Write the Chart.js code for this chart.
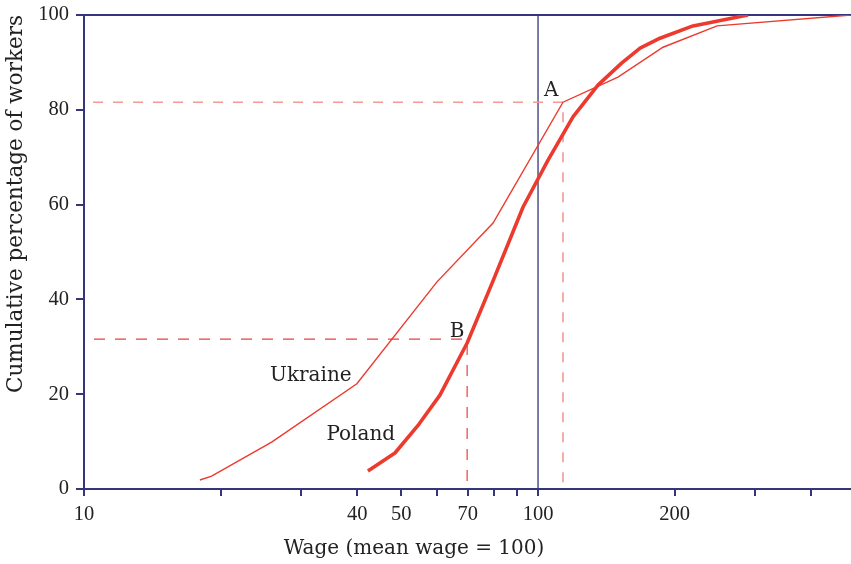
<!DOCTYPE html>
<html>
<head>
<meta charset="utf-8">
<script src="https://cdn.jsdelivr.net/npm/chart.js@4.4.1/dist/chart.umd.min.js"></script>
<style>
  html, body { margin: 0; padding: 0; background: #ffffff; }
  #wrap { width: 851px; height: 564px; }
</style>
</head>
<body>
<div id="wrap"><canvas id="c" width="851" height="564"></canvas></div>
<script>
// Wage relative to the mean (mean = 100) and cumulative share of workers (%)
const ukraineWage = [18.0, 19.1, 25.9, 39.9, 59.9, 79.6, 113.5, 150, 188.5, 248, 489];
const ukraineCum  = [1.9, 2.7, 9.9, 22.2, 43.7, 56.1, 81.6, 86.9, 93.2, 97.7, 100];

const polandWage = [42.2, 48.4, 54.7, 60.8, 69.8, 79.6, 92.7, 105.2, 119.4, 135.5, 153, 167.8, 185.6, 219.4, 290];
const polandCum  = [3.8, 7.6, 13.7, 19.8, 30.8, 43.9, 59.5, 69.4, 78.5, 85.2, 89.9, 93.0, 95.1, 97.7, 100];

// Marked points: A on the Ukraine curve, B on the Poland curve
const pointA = { wage: 113.5, cum: 81.6 };
const pointB = { wage: 69.8, cum: 31.6 };

const xTicks = [10, 20, 30, 40, 50, 60, 70, 80, 90, 100, 200, 300, 400];
const xTickLabels = [10, 40, 50, 70, 100, 200];
const yTicks = [0, 20, 40, 60, 80, 100];

const NAVY = '#34357a';
const RED = '#ec3a2f';
const SERIF = '"DejaVu Serif", "Liberation Serif", serif';
const NUM_FONT = '"Liberation Serif", serif';

const toXY = (xs, ys) => xs.map((x, i) => ({ x: x, y: ys[i] }));

// Text labels placed at data coordinates
const textLabels = [
  { text: 'A', x: 106.9, y: 84.0 },
  { text: 'B', x: 66.3, y: 33.1 },
  { text: 'Ukraine', x: 31.6, y: 23.8 },
  { text: 'Poland', x: 40.7, y: 11.4 }
];

const decorations = {
  id: 'decorations',
  beforeDatasetsDraw(chart) {
    const { ctx, chartArea, scales } = chart;
    ctx.save();
    // top frame line
    ctx.strokeStyle = NAVY;
    ctx.lineWidth = 2;
    ctx.beginPath();
    ctx.moveTo(chartArea.left, chartArea.top);
    ctx.lineTo(chartArea.right, chartArea.top);
    ctx.stroke();
    // mean-wage reference line
    const x100 = scales.x.getPixelForValue(100);
    ctx.lineWidth = 1.3;
    ctx.beginPath();
    ctx.moveTo(x100, chartArea.top);
    ctx.lineTo(x100, chartArea.bottom);
    ctx.stroke();
    ctx.restore();
  },
  afterDraw(chart) {
    const { ctx, scales } = chart;
    ctx.save();
    ctx.fillStyle = '#222222';
    ctx.font = '20px ' + SERIF;
    ctx.textAlign = 'center';
    ctx.textBaseline = 'middle';
    textLabels.forEach(l => {
      ctx.fillText(l.text, scales.x.getPixelForValue(l.x), scales.y.getPixelForValue(l.y));
    });
    // axis titles
    ctx.fillText('Wage (mean wage = 100)', 414, 549);
    ctx.font = '21.5px ' + SERIF;
    ctx.translate(16, 204);
    ctx.rotate(-Math.PI / 2);
    ctx.fillText('Cumulative percentage of workers', 0, 0);
    ctx.restore();
  }
};

new Chart(document.getElementById('c'), {
  type: 'scatter',
  data: {
    datasets: [
      {
        label: 'Poland',
        data: toXY(polandWage, polandCum),
        showLine: true,
        borderColor: RED,
        borderWidth: 3.6,
        pointRadius: 0,
        tension: 0,
        borderCapStyle: 'butt',
        borderJoinStyle: 'round',
        order: 1
      },
      {
        label: 'Ukraine',
        data: toXY(ukraineWage, ukraineCum),
        showLine: true,
        borderColor: RED,
        borderWidth: 1.4,
        pointRadius: 0,
        tension: 0,
        order: 2
      },
      {
        label: 'A guide',
        data: [{ x: 10, y: pointA.cum }, { x: pointA.wage, y: pointA.cum }, { x: pointA.wage, y: 0 }],
        showLine: true,
        borderColor: '#f29a94',
        borderWidth: 1.6,
        borderDash: [10, 10],
        borderDashOffset: -9,
        pointRadius: 0,
        order: 3
      },
      {
        label: 'B guide',
        data: [{ x: 10, y: pointB.cum }, { x: pointB.wage, y: pointB.cum }, { x: pointB.wage, y: 0 }],
        showLine: true,
        borderColor: '#e8423a',
        borderWidth: 1.2,
        borderDash: [11, 10],
        borderDashOffset: -10,
        pointRadius: 0,
        order: 4
      }
    ]
  },
  options: {
    responsive: false,
    animation: false,
    devicePixelRatio: 1,
    layout: { padding: { top: 15, right: 0, left: 0, bottom: 0 } },
    plugins: {
      legend: { display: false },
      tooltip: { enabled: false }
    },
    scales: {
      x: {
        type: 'logarithmic',
        min: 10,
        max: 489,
        afterFit(scale) {
          scale.height = 75;
          scale.paddingLeft = 0;
          scale.paddingRight = 0;
        },
        afterBuildTicks(scale) { scale.ticks = xTicks.map(v => ({ value: v })); },
        ticks: {
          autoSkip: false,
          maxRotation: 0,
          padding: 6,
          color: '#222222',
          font: { family: NUM_FONT, size: 20.5 },
          callback(value) { return xTickLabels.includes(value) ? String(value) : ''; }
        },
        grid: { display: true, drawOnChartArea: false, drawTicks: true, tickLength: 7, color: NAVY, lineWidth: 2 },
        border: { display: true, color: NAVY, width: 2 }
      },
      y: {
        min: 0,
        max: 100,
        afterFit(scale) {
          scale.width = 84;
          scale.paddingTop = 0;
          scale.paddingBottom = 0;
        },
        afterBuildTicks(scale) { scale.ticks = yTicks.map(v => ({ value: v })); },
        ticks: {
          padding: 7,
          color: '#222222',
          font: { family: NUM_FONT, size: 20.5 }
        },
        grid: { display: true, drawOnChartArea: false, drawTicks: true, tickLength: 8, color: NAVY, lineWidth: 2 },
        border: { display: true, color: NAVY, width: 2 }
      }
    }
  },
  plugins: [decorations]
});
</script>
</body>
</html>
